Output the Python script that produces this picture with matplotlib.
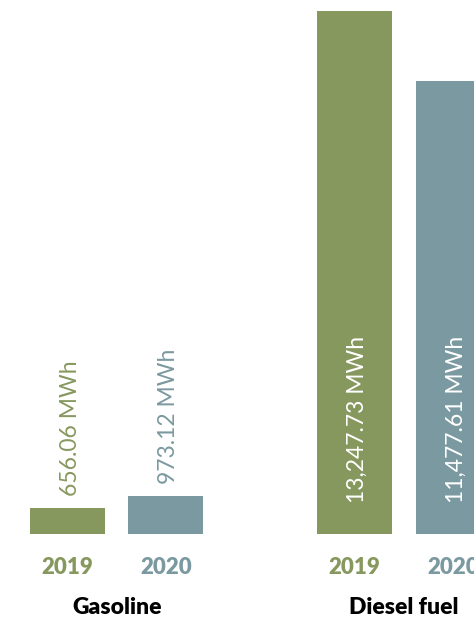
import matplotlib
matplotlib.use("Agg")
import matplotlib.pyplot as plt

groups = ["Gasoline", "Diesel fuel"]
years = ["2019", "2020"]
values = {
    "Gasoline": [656.06, 973.12],
    "Diesel fuel": [13247.73, 11477.61],
}
value_labels = {
    "Gasoline": ["656.06 MWh", "973.12 MWh"],
    "Diesel fuel": ["13,247.73 MWh", "11,477.61 MWh"],
}
colors = ["#87985F", "#7B99A0"]

W, H = 474, 619
fig = plt.figure(figsize=(W / 100, H / 100), dpi=100)
base_px = 85
ax = fig.add_axes([0, base_px / H, 1, (H - base_px) / H])
ymax = 13247.73 * 534 / 523
ax.set_ylim(0, ymax)
ax.set_xlim(-0.685, 4.127)
ax.axis("off")

group_step = 2.914
bar_w = 0.761
font = "Lato"
px_per_unit = 523 / 13247.73

for gi, g in enumerate(groups):
    xs = [gi * group_step + yi for yi in range(len(years))]
    for yi, (x, v) in enumerate(zip(xs, values[g])):
        ax.bar(x, v, width=bar_w, color=colors[yi], linewidth=0)
        if v * px_per_unit > 200:
            ax.text(x + 0.03, 31 / px_per_unit, value_labels[g][yi], rotation=90,
                    ha="center", va="bottom", color="white", fontsize=16.5,
                    fontfamily=font, fontweight="normal")
        else:
            ax.text(x + 0.03, v + 12 / px_per_unit, value_labels[g][yi], rotation=90,
                    ha="center", va="bottom", color=colors[yi], fontsize=16.5,
                    fontfamily=font, fontweight="normal")
        fig.text((ax.transData.transform((x, 0))[0]) / W, 1 - 567 / H, years[yi],
                 ha="center", va="center", color=colors[yi], fontsize=16,
                 fontfamily=font, fontweight="heavy")
    cx = ax.transData.transform((sum(xs) / len(xs), 0))[0] / W
    fig.text(cx, 1 - 607 / H, g, ha="center", va="center", color="black",
             fontsize=16.5, fontfamily=font, fontweight="heavy")

fig.savefig("out.png", dpi=100)
